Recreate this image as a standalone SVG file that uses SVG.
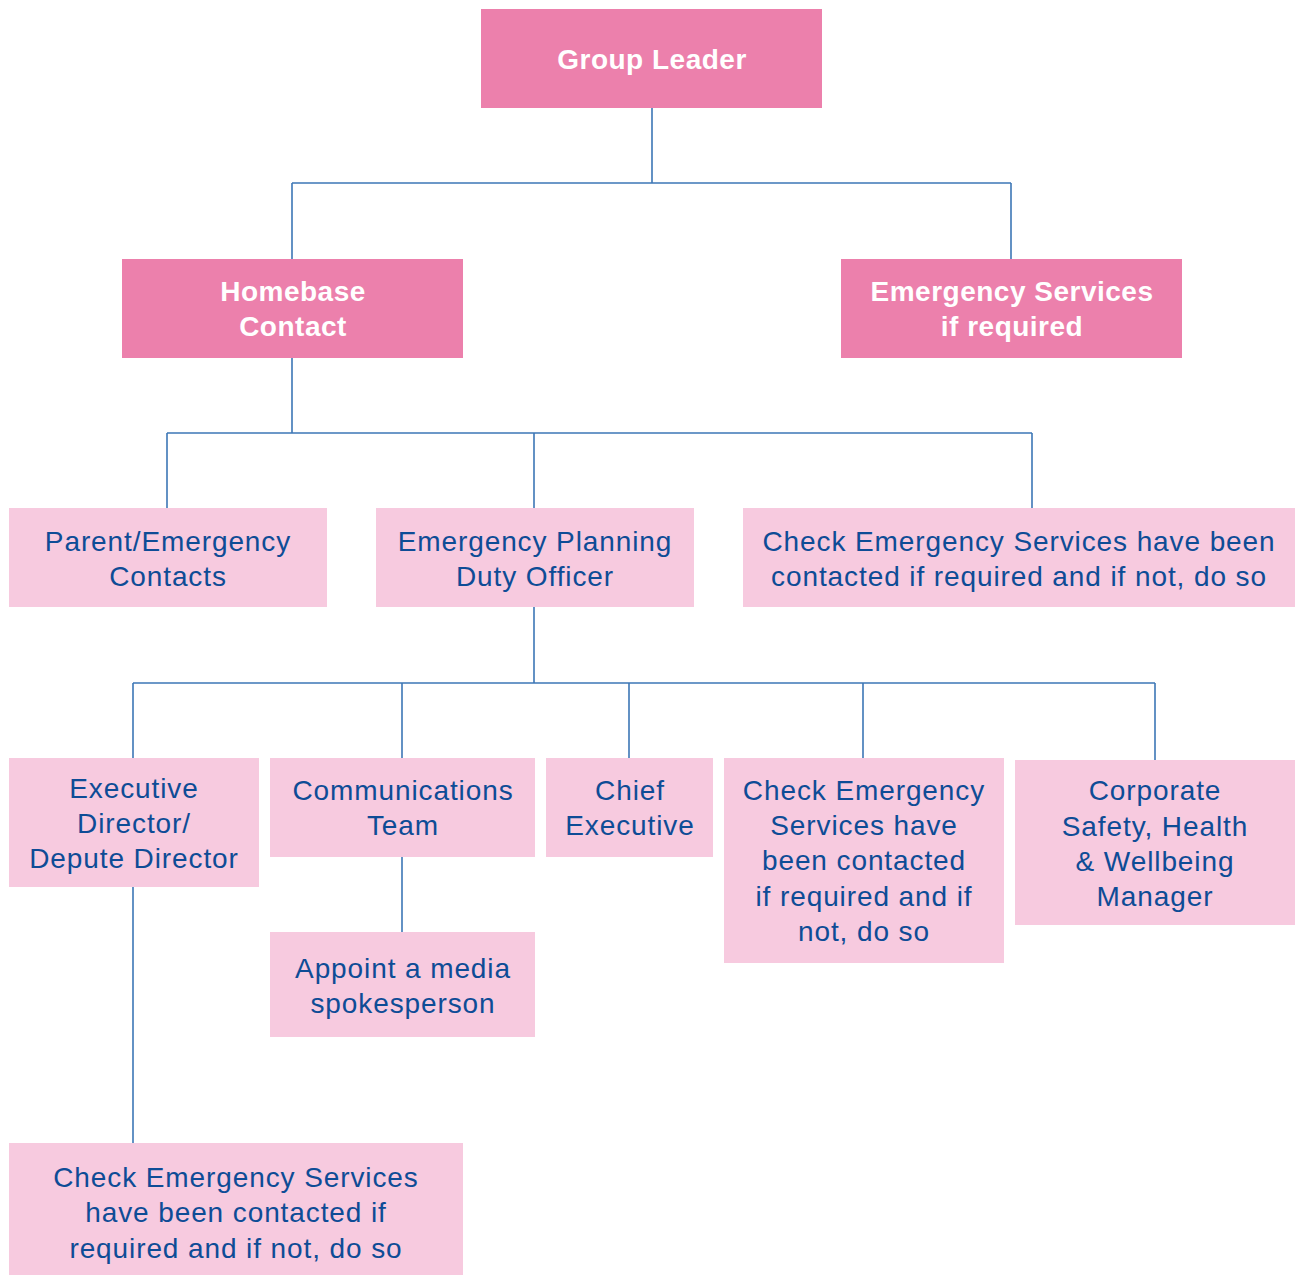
<svg xmlns="http://www.w3.org/2000/svg" width="1298" height="1275" viewBox="0 0 1298 1275">
<style>
.dark{fill:#EC80AC}
.light{fill:#F7CADF}
.tb{font-family:"Liberation Sans",Arial,sans-serif;font-size:28px;font-weight:bold;fill:#FFFFFF;text-anchor:middle;letter-spacing:0.5px}
.t{font-family:"Liberation Sans",Arial,sans-serif;font-size:28px;fill:#0E4C96;text-anchor:middle;letter-spacing:0.9px}
.c{fill:none;stroke:#3D77B6;stroke-width:1.6}
</style>
<rect width="1298" height="1275" fill="#FFFFFF"/>
<g id="connectors">
<path class="c" d="M652 108V183M292 183H1011M292 183V259M1011 183V259"/>
<path class="c" d="M292 358V433M167 433H1032M167 433V508M534 433V508M1032 433V508"/>
<path class="c" d="M534 607V683M133 683H1155M133 683V758M402 683V758M629 683V758M863 683V758M1155 683V760"/>
<path class="c" d="M402 857V932"/>
<path class="c" d="M133 887V1143"/>
</g>
<g id="group-leader"><rect class="dark" x="481" y="9" width="341" height="99"/><text class="tb" x="652" y="69">Group Leader</text></g>
<g id="homebase-contact"><rect class="dark" x="122" y="259" width="341" height="99"/><text class="tb" x="293" y="301">Homebase</text><text class="tb" x="293" y="336">Contact</text></g>
<g id="emergency-services"><rect class="dark" x="841" y="259" width="341" height="99"/><text class="tb" x="1012" y="301">Emergency Services</text><text class="tb" x="1012" y="336">if required</text></g>
<g id="parent-contacts"><rect class="light" x="9" y="508" width="318" height="99"/><text class="t" x="168" y="551">Parent/Emergency</text><text class="t" x="168" y="586">Contacts</text></g>
<g id="epdo"><rect class="light" x="376" y="508" width="318" height="99"/><text class="t" x="535" y="551">Emergency Planning</text><text class="t" x="535" y="586">Duty Officer</text></g>
<g id="check-es-1"><rect class="light" x="743" y="508" width="552" height="99"/><text class="t" x="1019" y="551">Check Emergency Services have been</text><text class="t" x="1019" y="586">contacted if required and if not, do so</text></g>
<g id="exec-director"><rect class="light" x="9" y="758" width="250" height="129"/><text class="t" x="134" y="798">Executive</text><text class="t" x="134" y="833">Director/</text><text class="t" x="134" y="868">Depute Director</text></g>
<g id="comms-team"><rect class="light" x="270" y="758" width="265" height="99"/><text class="t" x="403" y="800">Communications</text><text class="t" x="403" y="835">Team</text></g>
<g id="chief-exec"><rect class="light" x="546" y="758" width="167" height="99"/><text class="t" x="630" y="800">Chief</text><text class="t" x="630" y="835">Executive</text></g>
<g id="check-es-2"><rect class="light" x="724" y="758" width="280" height="205"/><text class="t" x="864" y="800">Check Emergency</text><text class="t" x="864" y="835">Services have</text><text class="t" x="864" y="870">been contacted</text><text class="t" x="864" y="906">if required and if</text><text class="t" x="864" y="941">not, do so</text></g>
<g id="corporate-safety"><rect class="light" x="1015" y="760" width="280" height="165"/><text class="t" x="1155" y="800">Corporate</text><text class="t" x="1155" y="836">Safety, Health</text><text class="t" x="1155" y="871">&amp; Wellbeing</text><text class="t" x="1155" y="906">Manager</text></g>
<g id="appoint-spokesperson"><rect class="light" x="270" y="932" width="265" height="105"/><text class="t" x="403" y="978">Appoint a media</text><text class="t" x="403" y="1013">spokesperson</text></g>
<g id="check-es-3"><rect class="light" x="9" y="1143" width="454" height="132"/><text class="t" x="236" y="1187">Check Emergency Services</text><text class="t" x="236" y="1222">have been contacted if</text><text class="t" x="236" y="1258">required and if not, do so</text></g>
</svg>
